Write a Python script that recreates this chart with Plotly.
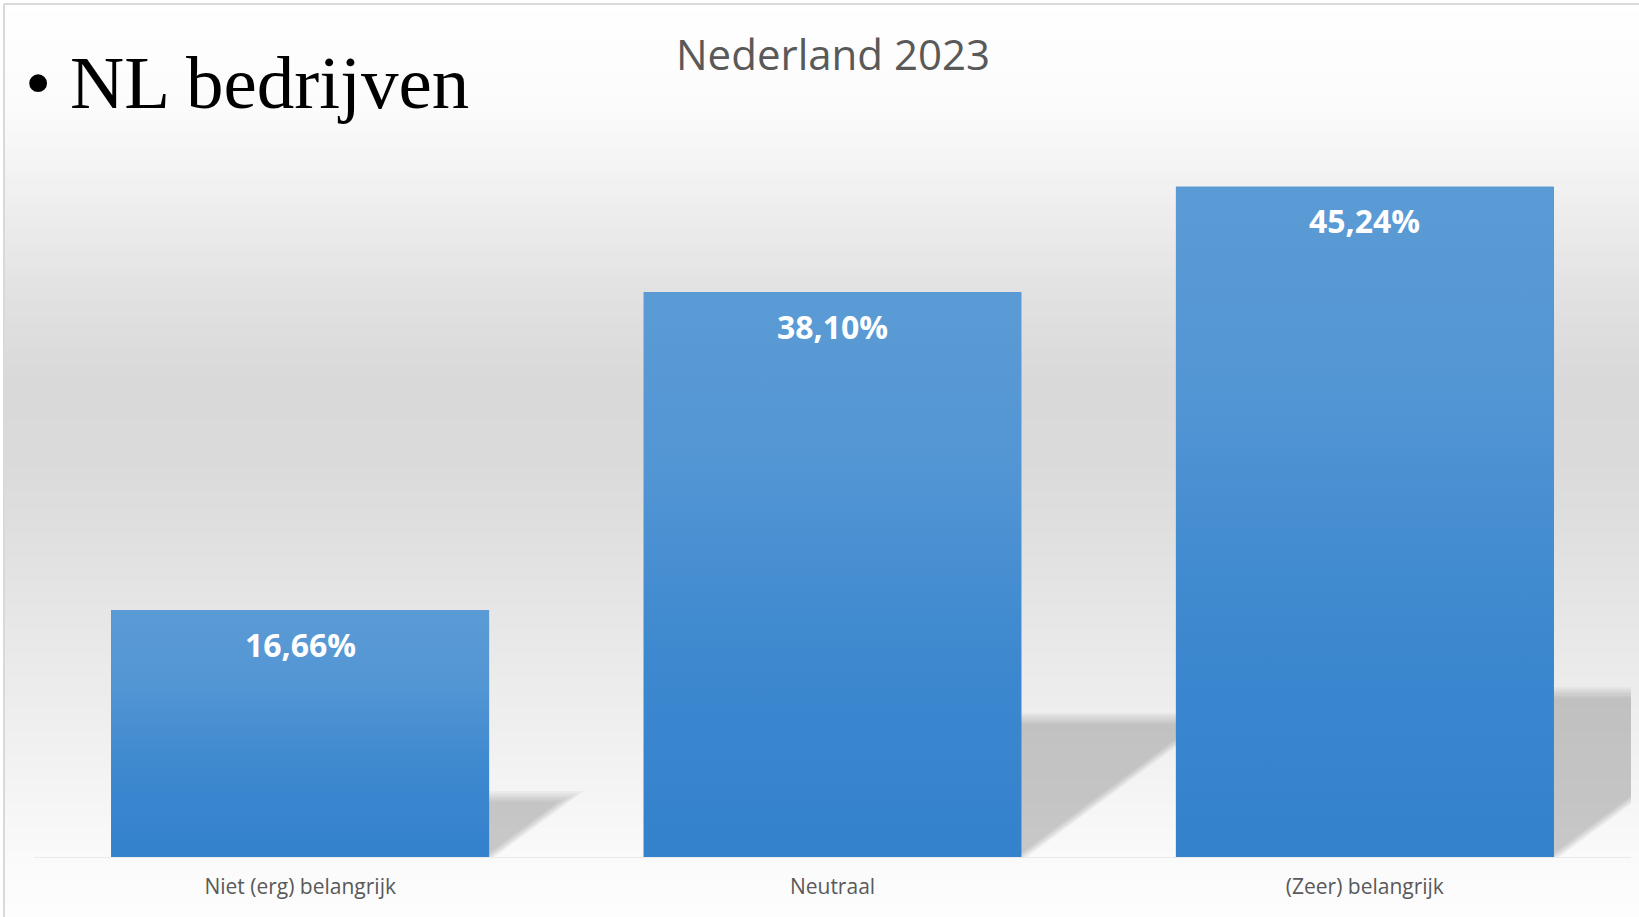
import plotly.graph_objects as go
import numpy as np

# ---- data ----
categories = ["Niet (erg) belangrijk", "Neutraal", "(Zeer) belangrijk"]
values = [16.66, 38.10, 45.24]
chart_title = "Nederland 2023"
slide_heading = "\u2022 NL bedrijven"

# ---- geometry (figure pixels) ----
W, H = 1639, 917
ML, MR, MT, MB = 34, 8, 116, 60
PW, PH = W - ML - MR, H - MT - MB
YMAX = 50.0
BAR_W = 0.71
px_per_x = PW / 3.0
px_per_y = PH / YMAX


def xp(px):
    return (px - ML) / PW


def yp(py):
    return (H - MB - py) / PH


fig = go.Figure()

# bars (base)
xs = list(range(len(categories)))
fig.add_trace(go.Bar(x=xs, y=values, width=BAR_W, marker=dict(color="#4a8fd2", line=dict(width=0)),
                     hoverinfo="x+y", showlegend=False))

# gradient overlay on each bar, built from the same values
for i, v in zip(xs, values):
    fig.add_trace(go.Scatter(
        x=[i - BAR_W / 2, i + BAR_W / 2, i + BAR_W / 2, i - BAR_W / 2, i - BAR_W / 2],
        y=[0, 0, v, v, 0], mode="lines", line=dict(width=0), fill="toself",
        fillgradient=dict(type="vertical",
                          colorscale=[[0, "#3481cc"], [0.35, "#3d88cf"], [0.7, "#5396d4"], [1, "#5b9bd5"]]),
        hoverinfo="skip", showlegend=False))

shapes = []

# background gradient (decorative)
stops_y = [0, 110, 200, 300, 380, 460, 540, 620, 700, 800, 870, 917]
stops_c = [255, 251, 239, 225, 217, 218, 224, 231, 237, 245, 251, 253]
step = 6
for py in range(5, H, step):
    c = int(round(np.interp(py + step / 2, stops_y, stops_c)))
    shapes.append(dict(type="rect", xref="paper", yref="paper", layer="below",
                       x0=xp(5), x1=xp(W + 2), y0=yp(py), y1=yp(min(py + step, H + 2)),
                       line=dict(width=0), fillcolor=f"rgb({c},{c},{c})"))

# frame lines
shapes.append(dict(type="line", xref="paper", yref="paper", x0=xp(4), x1=xp(W + 2), y0=yp(4), y1=yp(4),
                   line=dict(color="#d9d9d9", width=2)))
shapes.append(dict(type="line", xref="paper", yref="paper", x0=xp(4), x1=xp(4), y0=yp(4), y1=yp(H + 2),
                   line=dict(color="#d9d9d9", width=2)))

# soft floor shadows derived from bar values
SH_RATIO = 0.245
SLOPE = 1.35
n_layers = 6
for i, v in zip(xs, values):
    sh = SH_RATIO * v
    sh_px = sh * px_per_y
    for k in range(n_layers):
        e = (k - (n_layers - 1) / 2) * 2.2  # px inset
        top = (sh_px - e) / px_per_y
        dx = (SLOPE * (sh_px - e)) / px_per_x
        R = i + BAR_W / 2 - e / px_per_x
        L = i - BAR_W / 2
        path = (f"M {L},0 L {R},0 L {R + dx},{top} L {L + dx},{top} Z")
        shapes.append(dict(type="path", xref="x", yref="y", layer="below", path=path,
                           line=dict(width=0), fillcolor="rgba(120,120,120,0.075)"))

fig.update_layout(shapes=shapes)

# data labels
for i, v in zip(xs, values):
    fig.add_annotation(x=i, y=v, xref="x", yref="y", text=f"{v:.2f}".replace(".", ",") + "%",
                       showarrow=False, yanchor="middle", yshift=-34,
                       font=dict(family="Open Sans", size=32, color="white", weight="bold"))

# slide heading
fig.add_annotation(x=xp(23), y=yp(82), xref="paper", yref="paper", text=slide_heading,
                   showarrow=False, xanchor="left", yanchor="middle",
                   font=dict(family="Liberation Serif", size=75, color="black"))

fig.update_layout(
    width=W, height=H, margin=dict(l=ML, r=MR, t=MT, b=MB, autoexpand=False),
    paper_bgcolor="white", plot_bgcolor="rgba(0,0,0,0)",
    title=dict(text=chart_title, x=xp(833), xanchor="center", y=1 - 55 / H, yanchor="middle",
               xref="paper", yref="container",
               font=dict(family="Open Sans", size=42, color="#595959")),
    xaxis=dict(range=[-0.5, 2.5], tickvals=xs, ticktext=categories, showgrid=False, zeroline=False,
               showline=True, linecolor="#ebebeb", linewidth=1, ticks="", ticklabelstandoff=11,
               tickfont=dict(family="Open Sans", size=21, color="#595959"), fixedrange=True),
    yaxis=dict(range=[0, YMAX], visible=False, showgrid=False, zeroline=False, fixedrange=True),
    showlegend=False, bargap=0,
)

fig.write_html("out.html", config={"displayModeBar": False},
               post_script="document.body.style.margin='0';document.body.style.overflow='hidden';")
